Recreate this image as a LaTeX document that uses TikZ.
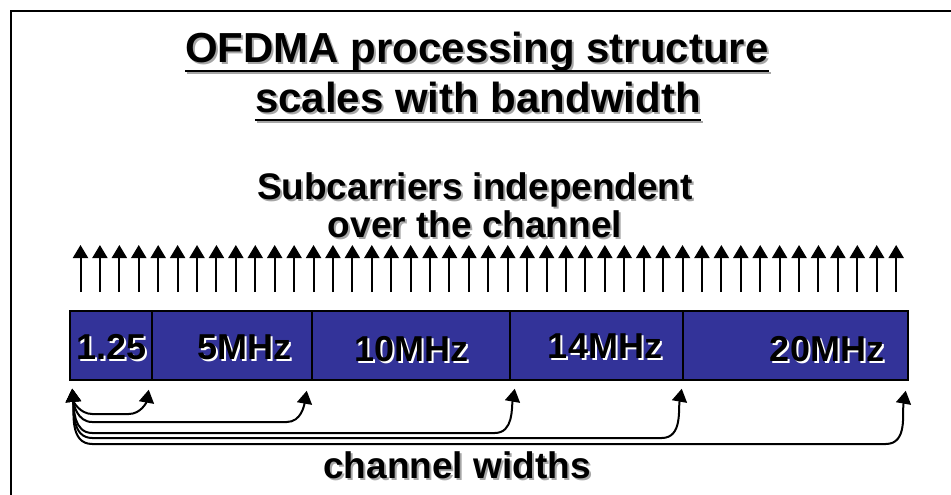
\documentclass[tikz,border=0pt]{standalone}
\usepackage{fontspec}
\setmainfont{Liberation Sans}
\usetikzlibrary{arrows.meta}

\definecolor{chanblue}{RGB}{51,51,153}
\newcommand{\shtext}[2]{\rlap{\kern2pt\raisebox{-2pt}{\color{#1}#2}}#2}

\begin{document}
\begin{tikzpicture}[x=1pt, y=1pt,
    titletext/.style={inner sep=0pt, anchor=base, font=\fontsize{42}{48}\selectfont\bfseries},
    subtext/.style={inner sep=0pt, font=\fontsize{37}{33}\selectfont\bfseries},
    chbox/.style={draw=black, line width=1.5pt, fill=chanblue, inner sep=0pt, minimum height=69pt},
    chlabel/.style={inner sep=0pt, anchor=base, font=\fontsize{36}{40}\selectfont\bfseries},
    carrier/.style={line width=2pt, -{Triangle[width=15pt,length=13pt]}},
    widtharrow/.style={line width=2pt, {Triangle[width=15pt,length=13pt]}-{Triangle[width=15pt,length=13pt]}}]
    \useasboundingbox (0,0) rectangle (951,-495);
    \draw[line width=2pt] (11,-495) |- (951,-11);

    % Title
    \node[titletext] (title1) at (477,-63) {\shtext{gray!70}{OFDMA processing structure}};
    \node[titletext] (title2) at (478,-112) {\shtext{gray!70}{scales with bandwidth}};
    \foreach \t in {title1, title2} {
        \draw[line width=2pt, gray!70] ([shift={(2,-10)}]\t.base west) -- ([shift={(2,-10)}]\t.base east);
        \draw[line width=2pt] ([yshift=-8pt]\t.base west) -- ([yshift=-8pt]\t.base east);
    }

    % Subcarriers
    \node[subtext, align=center, anchor=north] (sub) at (475,-172.5)
        {\shtext{gray!70}{Subcarriers independent}\\\shtext{gray!70}{over the channel}};
    \foreach \i in {0,...,42}
        \draw[carrier] ({80.5+19.42*\i},-292) -- ++(0,47);

    % Channels
    \node[chbox, minimum width=82pt] (b125) at (111,-345.5) {};
    \node[chbox, minimum width=160pt] (b5) at (232,-345.5) {};
    \node[chbox, minimum width=198pt] (b10) at (411,-345.5) {};
    \node[chbox, minimum width=173pt] (b14) at (596.5,-345.5) {};
    \node[chbox, minimum width=225pt] (b20) at (795.5,-345.5) {};
    \node[chlabel] (l125) at (111.5,-359) {\shtext{white}{1.25}};
    \node[chlabel] (l5) at (244.5,-359) {\shtext{white}{5MHz}};
    \node[chlabel] (l10) at (411.5,-361.5) {\shtext{white}{10MHz}};
    \node[chlabel] (l14) at (605,-358) {\shtext{white}{14MHz}};
    \node[chlabel] (l20) at (827,-361.5) {\shtext{white}{20MHz}};

    % Widths
    \coordinate (src) at ([shift={(3,-8)}]b125.south west);
    \coordinate (d125) at ([shift={(-4,-9)}]b125.south east);
    \coordinate (d5) at ([shift={(-6,-10)}]b5.south east);
    \coordinate (d10) at ([shift={(4,-8)}]b10.south east);
    \coordinate (d14) at ([shift={(-2,-8)}]b14.south east);
    \coordinate (d20) at ([shift={(-3,-10)}]b20.south east);
    \foreach \dst/\yk in {d125/414, d5/422, d10/433, d14/438, d20/444}
        \draw[widtharrow] (src) to[out=-85,in=180] ([xshift=20pt]src |- 0,-\yk)
            -- ([xshift=-20pt]\dst |- 0,-\yk) to[out=0,in=-100] (\dst);
    \node[subtext, anchor=base] (widths) at (457,-478) {\shtext{gray!70}{channel widths}};
\end{tikzpicture}
\end{document}
